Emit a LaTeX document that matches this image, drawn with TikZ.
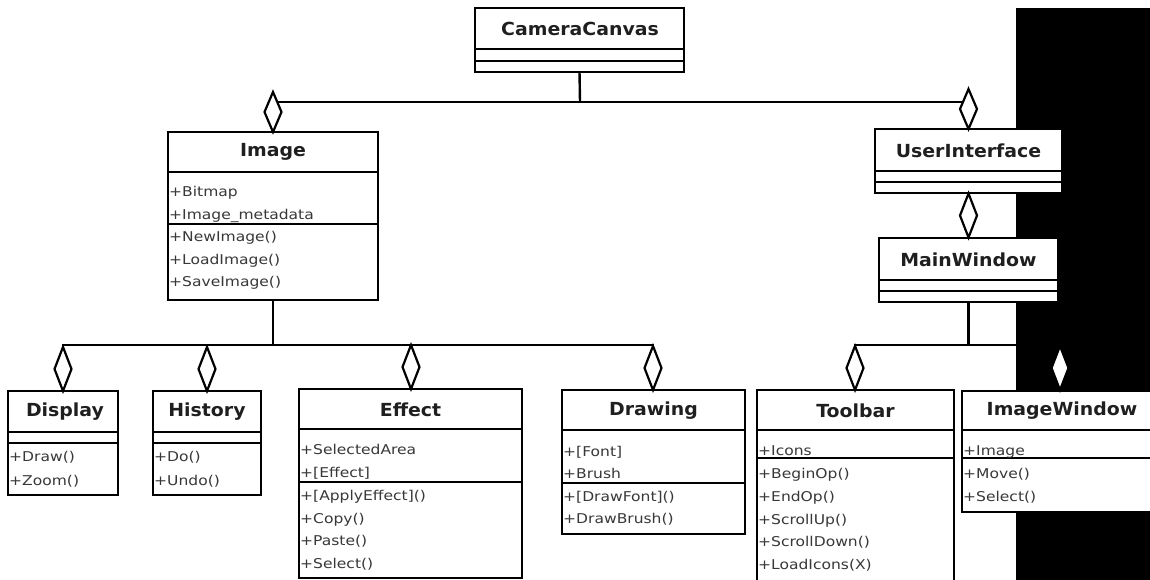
\documentclass[tikz,border=0pt]{standalone}
\usepackage{fontspec}
\usetikzlibrary{shapes.geometric}
\newfontfamily\ttlfont{DejaVu Sans}[FakeStretch=1.05]
\newfontfamily\memfont{DejaVu Sans}[FakeStretch=1.15]
\tikzset{
  cls/.style={draw=black, fill=white, line width=2.4pt, inner sep=0pt, outer sep=0pt, anchor=north west},
  div/.style={line width=2.4pt},
  ttl/.style={font=\ttlfont\bfseries\fontsize{18}{18}\selectfont, text=black!88, inner sep=0pt},
  mem/.style={font=\memfont\fontsize{13.5}{13.5}\selectfont, text=black!78, inner sep=0pt, anchor=west, text height=9.8pt, text depth=2.6pt},
  agg/.style={diamond, draw=black, fill=white, line width=2.2pt, minimum width=17pt, minimum height=40pt, inner sep=0pt, outer sep=0pt},
  aggb/.style={agg, minimum height=44pt},
  conn/.style={line width=2.4pt},
}
\begin{document}
\begin{tikzpicture}[x=1pt,y=-1pt]
\useasboundingbox (0,0) rectangle (1150,580);
\clip (0,0) rectangle (1150,580);
\fill[white] (0,0) rectangle (1150,580);
\fill[black] (1016,8) rectangle (1150,580);

% class boxes
\node[cls, minimum width=209pt, minimum height=64pt] (cc) at (475,8) {};
\node[cls, minimum width=210pt, minimum height=168pt] (img) at (168,132) {};
\node[cls, minimum width=187pt, minimum height=64pt] (ui) at (875,129) {};
\node[cls, minimum width=179pt, minimum height=64pt] (mw) at (879,238) {};
\node[cls, minimum width=110pt, minimum height=104pt] (disp) at (8,391) {};
\node[cls, minimum width=108pt, minimum height=104pt] (hist) at (153,391) {};
\node[cls, minimum width=223pt, minimum height=189pt] (eff) at (299,389) {};
\node[cls, minimum width=183pt, minimum height=144pt] (drw) at (562,390) {};
\node[cls, minimum width=197pt, minimum height=220pt] (tb) at (757,390) {};
\node[cls, minimum width=200pt, minimum height=121pt] (iw) at (962,391) {};

% compartments
\draw[div] (cc.west |- 0,49) -- (cc.east |- 0,49);
\draw[div] (cc.west |- 0,61) -- (cc.east |- 0,61);
\draw[div] (img.west |- 0,172) -- (img.east |- 0,172);
\draw[div] (img.west |- 0,224) -- (img.east |- 0,224);
\draw[div] (ui.west |- 0,171) -- (ui.east |- 0,171);
\draw[div] (ui.west |- 0,182) -- (ui.east |- 0,182);
\draw[div] (mw.west |- 0,280) -- (mw.east |- 0,280);
\draw[div] (mw.west |- 0,291) -- (mw.east |- 0,291);
\draw[div] (disp.west |- 0,432) -- (disp.east |- 0,432);
\draw[div] (disp.west |- 0,443) -- (disp.east |- 0,443);
\draw[div] (hist.west |- 0,432) -- (hist.east |- 0,432);
\draw[div] (hist.west |- 0,443) -- (hist.east |- 0,443);
\draw[div] (eff.west |- 0,429) -- (eff.east |- 0,429);
\draw[div] (eff.west |- 0,482) -- (eff.east |- 0,482);
\draw[div] (drw.west |- 0,430) -- (drw.east |- 0,430);
\draw[div] (drw.west |- 0,483) -- (drw.east |- 0,483);
\draw[div] (tb.west |- 0,430) -- (tb.east |- 0,430);
\draw[div] (tb.west |- 0,458) -- (tb.east |- 0,458);
\draw[div] (iw.west |- 0,430) -- (iw.east |- 0,430);
\draw[div] (iw.west |- 0,458) -- (iw.east |- 0,458);

% titles
\node[ttl] (cct) at (580,29) {CameraCanvas};
\node[ttl] (imgt) at (273,152) {Image};
\node[ttl] (uit) at (968.5,151) {UserInterface};
\node[ttl] (mwt) at (968.5,260) {MainWindow};
\node[ttl] (dispt) at (65,412) {Display};
\node[ttl] (histt) at (207,412) {History};
\node[ttl] (efft) at (410.5,410) {Effect};
\node[ttl] (drwt) at (653.5,411) {Drawing};
\node[ttl] (tbt) at (855.5,411) {Toolbar};
\node[ttl] (iwt) at (1062,411) {ImageWindow};

% members
\node[mem] (img1) at (169,193) {+Bitmap};
\node[mem] (img2) at (169,216) {+Image\_metadata};
\node[mem] (img3) at (169,238) {+NewImage()};
\node[mem] (img4) at (169,261) {+LoadImage()};
\node[mem] (img5) at (169,283) {+SaveImage()};
\node[mem] (disp1) at (9,458) {+Draw()};
\node[mem] (disp2) at (9,482) {+Zoom()};
\node[mem] (hist1) at (154,458) {+Do()};
\node[mem] (hist2) at (154,482) {+Undo()};
\node[mem] (eff1) at (300,451) {+SelectedArea};
\node[mem] (eff2) at (300,474) {+[Effect]};
\node[mem] (eff3) at (300,497) {+[ApplyEffect]()};
\node[mem] (eff4) at (300,520) {+Copy()};
\node[mem] (eff5) at (300,542) {+Paste()};
\node[mem] (eff6) at (300,565) {+Select()};
\node[mem] (drw1) at (563,453) {+[Font]};
\node[mem] (drw2) at (563,475) {+Brush};
\node[mem] (drw3) at (563,498) {+[DrawFont]()};
\node[mem] (drw4) at (563,520) {+DrawBrush()};
\node[mem] (tb1) at (758,452) {+Icons};
\node[mem] (tb2) at (758,475) {+BeginOp()};
\node[mem] (tb3) at (758,498) {+EndOp()};
\node[mem] (tb4) at (758,521) {+ScrollUp()};
\node[mem] (tb5) at (758,543) {+ScrollDown()};
\node[mem] (tb6) at (758,566) {+LoadIcons(X)};
\node[mem] (iw1) at (963,452) {+Image};
\node[mem] (iw2) at (963,475) {+Move()};
\node[mem] (iw3) at (963,498) {+Select()};

% junctions
\coordinate (j1) at (580,102);
\coordinate (j2) at (273,345);
\coordinate (j3) at (968.5,345);

% aggregation diamond positions
\coordinate (pdimg) at (273,112);
\coordinate (pdui) at (968.5,109);
\coordinate (pdmw) at (968.5,215.5);
\coordinate (pddisp) at (63,369);
\coordinate (pdhist) at (207,369);
\coordinate (pdeff) at (411,367);
\coordinate (pddrw) at (653,368);
\coordinate (pdtb) at (855,368);
\coordinate (pdiw) at (1060,368);

% connectors
\draw[conn] (cc.south) -- (j1);
\draw[conn] (j1) -| (pdimg);
\draw[conn] (j1) -| (pdui);
\draw[conn] (ui.south) -- (mw.north);
\draw[conn] (img.south) -- (j2);
\draw[conn] (j2) -| (pddisp);
\draw[conn] (j2) -| (pdhist);
\draw[conn] (j2) -| (pdeff);
\draw[conn] (j2) -| (pddrw);
\draw[conn] (mw.south) -- (j3);
\draw[conn] (j3) -| (pdtb);
\draw[conn] (j3) -| (pdiw);

% diamonds
\node[agg] (dimg) at (pdimg) {};
\node[agg] (dui) at (pdui) {};
\node[aggb] (dmw) at (pdmw) {};
\node[aggb] (ddisp) at (pddisp) {};
\node[aggb] (dhist) at (pdhist) {};
\node[aggb] (deff) at (pdeff) {};
\node[aggb] (ddrw) at (pddrw) {};
\node[aggb] (dtb) at (pdtb) {};
\node[aggb] (diw) at (pdiw) {};
\end{tikzpicture}
\end{document}
